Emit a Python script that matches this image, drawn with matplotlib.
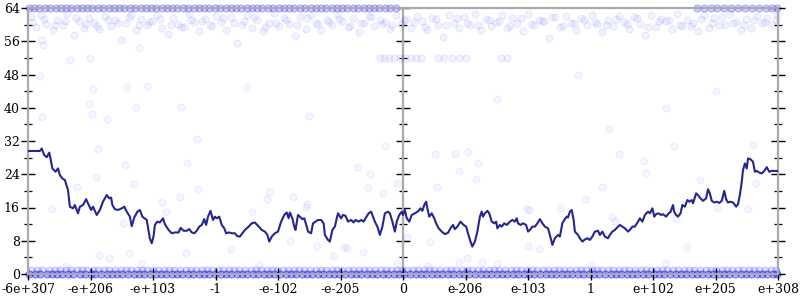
import matplotlib
matplotlib.use("Agg")
import matplotlib.pyplot as plt
import numpy as np
from matplotlib.ticker import MultipleLocator

# x is the float ordering rank, 100 units per labelled tick, 0 in the middle
x_ticks = [-600, -500, -400, -300, -200, -100, 0, 100, 200, 300, 400, 500, 600]
x_labels = ["-6e+307", "-e+206", "-e+103", "-1", "-e-102", "-e-205", "0",
            "e-206", "e-103", "1", "e+102", "e+205", "e+308"]

# running average of the bit count (dark line)
running = [
    (-600, 29.6), (-581, 29.6), (-578, 30.2), (-574, 28.6), (-570, 28.1), (-566, 29.2), (-564, 27.8),
    (-561, 25.4), (-556, 24.6), (-552, 25.4), (-549, 23.8), (-545, 23.0), (-541, 22.6), (-536, 20.2),
    (-533, 16.2), (-528, 15.8), (-525, 16.6), (-520, 14.6), (-517, 16.2), (-512, 16.6), (-507, 18.0),
    (-504, 17.0), (-499, 15.4), (-496, 16.2), (-490, 14.2), (-485, 15.4), (-480, 17.4), (-474, 19.0),
    (-470, 18.2), (-467, 18.4), (-465, 16.6), (-461, 15.6), (-456, 15.4), (-450, 15.8), (-446, 16.2),
    (-442, 15.0), (-437, 13.8), (-434, 11.5), (-430, 13.6), (-425, 15.0), (-421, 15.4), (-417, 13.8),
    (-410, 13.0), (-405, 8.5), (-402, 7.4), (-399, 9.2), (-397, 11.8), (-393, 12.6), (-389, 12.4),
    (-384, 13.4), (-381, 12.0), (-375, 10.6), (-370, 9.8), (-365, 10.0), (-359, 10.0), (-356, 11.1),
    (-351, 10.4), (-346, 10.4), (-342, 10.8), (-338, 10.0), (-334, 9.8), (-330, 10.4), (-326, 11.4),
    (-322, 11.8), (-318, 13.2), (-315, 11.8), (-312, 13.8), (-308, 15.2), (-304, 13.0), (-301, 13.8),
    (-298, 13.4), (-294, 13.8), (-290, 11.8), (-286, 11.0), (-283, 9.8), (-278, 10.0), (-274, 9.8),
    (-269, 9.8), (-265, 9.1), (-261, 9.0), (-257, 9.8), (-253, 10.6), (-247, 11.4), (-242, 12.2),
    (-237, 12.4), (-232, 11.6), (-226, 10.6), (-221, 10.2), (-217, 9.4), (-214, 7.8), (-210, 9.0),
    (-205, 9.8), (-200, 10.2), (-195, 12.6), (-190, 14.2), (-186, 14.8), (-183, 13.4), (-181, 14.8),
    (-177, 13.4), (-174, 11.4), (-172, 10.6), (-168, 14.2), (-165, 13.8), (-161, 13.2), (-158, 13.4),
    (-154, 11.4), (-152, 10.2), (-147, 9.8), (-144, 12.2), (-140, 12.6), (-136, 13.0), (-131, 13.0),
    (-127, 12.2), (-125, 9.4), (-120, 8.2), (-117, 7.8), (-113, 10.6), (-109, 11.4), (-106, 13.4),
    (-104, 14.6), (-99, 13.4), (-96, 14.2), (-92, 14.0), (-88, 12.6), (-83, 13.0), (-79, 12.4),
    (-76, 13.0), (-71, 12.6), (-67, 13.0), (-63, 12.6), (-60, 13.4), (-55, 14.6), (-51, 15.0),
    (-48, 13.8), (-45, 12.6), (-41, 11.4), (-37, 9.4), (-33, 11.4), (-29, 14.6), (-24, 15.0),
    (-21, 14.6), (-17, 12.6), (-13, 10.2), (-10, 12.6), (-6, 14.2), (-2, 15.0), (0, 14.2),
    (3, 15.4), (6, 13.4), (10, 12.6), (14, 14.2), (19, 14.6), (25, 15.2), (28, 15.8),
    (31, 15.2), (34, 16.6), (37, 17.4), (39, 15.8), (42, 13.8), (46, 14.6), (50, 13.4),
    (53, 12.2), (57, 11.0), (62, 10.2), (67, 9.6), (72, 9.9), (76, 11.0), (80, 11.8),
    (83, 10.8), (87, 11.4), (92, 12.6), (97, 11.8), (101, 11.4), (104, 9.8), (108, 7.8),
    (111, 6.6), (115, 7.8), (119, 10.2), (123, 13.8), (126, 15.0), (128, 13.8), (131, 14.6),
    (135, 15.2), (138, 14.6), (142, 12.6), (146, 12.2), (149, 12.6), (151, 11.0), (155, 11.8),
    (158, 11.4), (162, 12.2), (166, 11.8), (171, 12.6), (175, 13.0), (179, 12.6), (182, 13.4),
    (184, 12.2), (188, 11.8), (192, 12.2), (197, 11.8), (200, 10.2), (203, 10.6), (207, 11.4),
    (211, 11.4), (215, 12.2), (219, 13.2), (223, 12.2), (227, 11.4), (232, 11.0), (235, 9.4),
    (239, 7.0), (243, 8.6), (248, 9.4), (251, 9.0), (255, 12.2), (258, 13.0), (262, 13.8),
    (264, 13.6), (267, 15.0), (270, 15.4), (273, 13.0), (275, 10.2), (280, 9.4), (283, 8.6),
    (287, 7.8), (291, 8.3), (295, 8.6), (299, 8.2), (303, 9.0), (307, 10.2), (312, 10.4),
    (315, 9.4), (319, 10.2), (323, 9.0), (328, 8.6), (331, 9.4), (335, 10.2), (339, 10.6),
    (344, 11.4), (347, 11.8), (351, 11.4), (355, 11.0), (360, 10.2), (363, 10.6), (367, 11.4),
    (371, 11.4), (376, 12.6), (379, 13.4), (383, 12.6), (387, 14.2), (392, 15.0), (395, 14.6),
    (399, 15.8), (402, 13.8), (405, 14.4), (409, 14.6), (413, 14.2), (416, 14.4), (421, 13.8),
    (425, 14.6), (428, 14.9), (432, 16.6), (434, 14.9), (437, 14.2), (440, 13.8), (444, 14.6),
    (447, 16.6), (451, 16.2), (455, 17.8), (458, 17.4), (462, 17.8), (464, 17.0), (469, 19.4),
    (472, 19.0), (476, 18.2), (480, 17.6), (485, 18.2), (488, 20.4), (491, 19.4), (494, 17.6),
    (498, 17.2), (502, 17.4), (506, 17.1), (510, 17.6), (514, 20.0), (517, 18.0), (520, 17.2),
    (524, 17.4), (528, 17.2), (533, 16.2), (536, 16.8), (539, 19.0), (542, 22.2), (544, 25.0),
    (547, 26.6), (550, 25.4), (552, 27.8), (556, 27.6), (560, 27.0), (563, 24.6), (566, 24.8),
    (570, 24.4), (574, 24.2), (578, 24.8), (582, 25.7), (586, 24.6), (590, 24.8), (600, 24.8),
]

# samples with 0 set bits
zero_x = [-598, -589, -581, -570, -562, -553, -545, -536, -528, -517, -509, -500, -493, -484, -474,
          -466, -457, -449, -440, -431, -422, -414, -405, -396, -388, -379, -370, -361, -353, -344,
          -336, -327, -318, -310, -301, -292, -284, -275, -266, -258, -249, -240, -232, -223, -214,
          -206, -197, -188, -180, -171, -162, -154, -145, -136, -128, -119, -110, -102, -93, -84,
          -76, -67, -58, -50, -41, -32, -24, -15, -6, 2, 11, 20, 28, 37, 46, 54, 63, 72, 80, 89,
          98, 106, 115, 124, 132, 141, 150, 158, 167, 176, 184, 193, 202, 210, 219, 228, 236, 245,
          254, 262, 271, 280, 288, 297, 306, 314, 323, 332, 340, 349, 358, 366, 375, 384, 392, 401,
          410, 418, 427, 436, 444, 453, 462, 470, 479, 488, 496, 505, 514, 522, 531, 540, 548, 557,
          566, 574, 583, 592, 599]
# samples with 1 set bit
one_x = [-595, -585, -577, -566, -557, -549, -540, -531, -522, -514, -505, -496, -488, -478, -470,
         -461, -452, -444, -435, -426, -418, -409, -400, -392, -383, -374, -366, -357, -348, -340,
         -331, -322, -314, -305, -296, -288, -279, -270, -262, -253, -244, -236, -227, -218, -210,
         -201, -192, -184, -175, -166, -158, -149, -140, -132, -123, -114, -106, -97, -88, -80,
         -71, -62, -54, -45, -36, -28, -19, -10, -2, 7, 16, 24, 33, 42, 50, 59, 68, 76, 85, 94,
         102, 111, 120, 128, 137, 146, 154, 163, 172, 180, 189, 198, 206, 215, 224, 232, 241, 250,
         258, 267, 276, 284, 293, 302, 310, 319, 328, 336, 345, 354, 362, 371, 380, 388, 397, 406,
         414, 423, 432, 440, 449, 458, 466, 475, 484, 492, 501, 510, 518, 527, 536, 544, 553, 562,
         570, 579, 588, 596]
# samples with all 64 bits set
full_x = [-598, -590, -582, -573, -565, -556, -548, -539, -531, -522, -514, -505, -497, -488, -480,
          -471, -463, -454, -446, -437, -429, -420, -412, -403, -395, -386, -378, -369, -361, -352,
          -344, -335, -327, -318, -310, -301, -293, -284, -276, -267, -259, -250, -242, -233, -225,
          -216, -208, -199, -191, -182, -174, -165, -157, -148, -140, -131, -123, -114, -106, -97,
          -89, -80, -72, -63, -55, -46, -38, -29, -21, -12, 470, 481, 492, 503, 514, 525, 536, 547,
          558, 569, 580, 591, 598]
# the crowd just under 64
high_x = [-596, -588, -579, -571, -560, -553, -544, -537, -527, -519, -511, -502, -494, -486, -477,
          -468, -461, -452, -443, -436, -427, -419, -410, -402, -394, -385, -376, -368, -360, -351,
          -342, -334, -326, -317, -309, -300, -291, -284, -275, -266, -258, -249, -241, -233, -224,
          -215, -207, -199, -190, -182, -173, -165, -156, -148, -139, -131, -122, -114, -105, -97,
          -88, -80, -71, -63, -55, -46, -37, -29, -21, -12, -4, 5, 13, 22, 30, 39, 47, 56, 64, 73,
          81, 90, 98, 107, 115, 124, 132, 141, 149, 158, 166, 175, 183, 192, 200, 209, 217, 226,
          234, 243, 251, 260, 268, 277, 285, 294, 302, 311, 319, 328, 336, 345, 353, 362, 370, 379,
          387, 396, 404, 413, 421, 430, 438, 447, 455, 464, 472, 481, 489, 498, 506, 515, 523, 532,
          540, 549, 557, 566, 574, 583, 591, 599]
high_y = [61.8, 59.4, 62.3, 60.1, 58.7, 61.2, 59.9, 62.6, 57.5, 60.8,
          59.2, 61.6, 60.4, 58.9, 62.1, 59.7, 61.0, 56.4, 60.3, 62.4,
          58.6, 61.4, 59.8, 60.9, 62.2, 59.1, 57.8, 61.7, 60.2, 59.5,
          62.5, 60.6, 58.4, 61.3, 59.9, 62.0, 60.7, 58.8, 61.9, 55.6,
          60.0, 62.3, 59.3, 61.1, 58.5, 60.5, 62.7, 59.6, 61.5, 60.1,
          57.2, 61.8, 59.0, 62.2, 60.4, 58.7, 61.2, 59.8, 62.6, 60.9,
          59.4, 61.6, 58.2, 60.3, 62.1, 59.7, 61.0, 60.6, 58.9, 62.4,
          60.2, 61.4, 59.2, 62.0, 60.8, 58.6, 61.7, 59.9, 57.1, 62.3,
          60.5, 59.3, 61.9, 60.0, 62.5, 58.8, 61.3, 59.6, 60.7, 62.2,
          59.1, 61.5, 60.3, 58.4, 62.6, 59.8, 61.1, 60.9, 56.9, 61.8,
          59.5, 62.1, 60.4, 58.7, 61.6, 59.9, 62.4, 60.1, 58.3, 61.2,
          59.7, 62.0, 60.6, 59.0, 61.9, 60.2, 57.6, 62.3, 59.4, 61.4,
          60.8, 58.9, 62.5, 59.6, 61.0, 60.5, 58.5, 62.2, 59.2, 61.7,
          60.0, 59.8, 62.6, 60.7, 58.6, 61.3, 59.3, 62.0, 60.4, 61.5,
          59.9, 62.4]
high2_x = [-593, -575, -557, -541, -523, -507, -490, -472, -456, -439,
           -423, -406, -389, -372, -356, -339, -322, -305, -288, -271,
           -254, -238, -221, -204, -187, -170, -153, -136, -119, -102,
           -85, -68, -51, -34, -17, 1, 18, 35, 52, 69,
           86, 103, 120, 137, 154, 171, 188, 205, 222, 239,
           256, 273, 290, 307, 324, 341, 358, 375, 392, 409,
           426, 443, 460, 477, 494, 511, 528, 545, 562, 579,
           596]
high2_y = [60.6, 61.3, 59.8, 60.9, 61.7, 60.2, 59.6, 61.1, 60.4, 61.9,
           59.9, 60.7, 61.4, 60.0, 59.5, 61.2, 60.8, 59.7, 61.6, 60.3,
           60.9, 61.8, 59.4, 60.5, 61.0, 59.9, 61.5, 60.1, 60.7, 61.3,
           59.6, 60.4, 61.9, 60.2, 59.8, 61.1, 60.6, 59.5, 61.4, 60.0,
           61.7, 60.3, 59.9, 61.2, 60.8, 59.7, 61.5, 60.1, 60.9, 61.8,
           59.6, 60.4, 61.0, 60.7, 59.8, 61.3, 60.2, 61.6, 59.5, 60.8,
           61.1, 60.0, 59.7, 61.4, 60.5, 61.9, 60.3, 59.9, 61.2, 60.6,
           61.0]
# row at 52 bits near the middle
row52_x = [-37, -30, -22, -14, -5, 3, 12, 20, 28, 56, 66, 78, 90, 100, 156, 166]

# isolated samples
stray = [
    (-581, 47.6), (-577, 37.7), (-533, 51.5), (-501, 52.0), (-496, 44.4), (-502, 40.9), (-498, 38.4),
    (-473, 37.2), (-488, 30.1), (-442, 44.9), (-428, 40.3), (-409, 45.2), (-356, 40.1), (-330, 32.4),
    (-422, 54.3), (-578, 56.3), (-576, 55.1), (-445, 26.2), (-346, 26.8), (-492, 23.3), (-432, 21.7),
    (-521, 21.0), (-328, 20.4), (-386, 17.4), (-357, 18.6), (-562, 15.6), (-379, 15.0), (-448, 12.2),
    (-486, 4.6), (-471, 3.8), (-439, 5.0), (-347, 5.1), (-29, 30.9), (-73, 25.8), (-53, 24.1),
    (-10, 22.0), (-32, 19.6), (-56, 20.6), (51, 28.9), (83, 28.8), (104, 29.3), (120, 26.6),
    (90, 24.9), (116, 22.8), (-64, 5.4), (-112, 4.4), (-94, 6.4), (43, 7.8), (103, 3.8),
    (126, 3.0), (346, 28.9), (434, 30.8), (386, 27.2), (388, 24.3), (560, 31.1), (565, 22.0),
    (318, 21.0), (475, 22.6), (503, 16.0), (335, 13.6), (339, 12.8), (454, 6.4), (552, 15.6),
    (436, 13.2), (-214, 19.8), (-217, 18.0), (-242, 14.8), (-275, 5.9), (-176, 18.6), (-154, 16.8),
    (-156, 16.2), (-181, 8.0), (-138, 6.7), (-90, 6.2), (55, 21.0), (6, 8.8), (198, 15.6),
    (292, 18.0), (251, 15.8), (202, 15.4), (200, 6.7), (218, 6.0), (-250, 45.0), (-150, 38.0),
    (150, 42.0), (280, 48.0), (420, 40.0), (500, 44.0), (330, 35.0), (-230, 2.2), (-10, 2.5),
    (40, 2.0), (90, 2.8), (150, 2.3), (300, 2.1), (420, 2.6), (-420, 2.4), (-540, 2.0),
]

LINE = "#26268f"
GREY = "#aaaaaa"

plt.rcParams["font.family"] = ["DejaVu Serif"]

fig = plt.figure(figsize=(8, 3), dpi=100)
rect = [28 / 800, 26 / 300, 750 / 800, 266 / 300]

# right half carries the middle axis line at x = 0, drawn underneath
mid = fig.add_axes([403 / 800, 26 / 300, 375 / 800, 266 / 300])
mid.set_ylim(0, 64)
mid.patch.set_visible(False)
for side in ["right", "top", "bottom"]:
    mid.spines[side].set_visible(False)
mid.spines["left"].set_color(GREY)
mid.spines["left"].set_linewidth(1.6)
mid.set_xticks([])
mid.yaxis.set_major_locator(MultipleLocator(8))
mid.yaxis.set_minor_locator(MultipleLocator(4))
mid.tick_params(axis="y", which="major", direction="inout", length=10, width=1.0, labelleft=False)
mid.tick_params(axis="y", which="minor", direction="inout", length=6, width=0.9)

ax = fig.add_axes(rect)
ax.patch.set_visible(False)

sx, sy = np.array(stray).T
groups = [
    (np.array(zero_x), np.zeros(len(zero_x)), 0.30),
    (np.array(one_x), np.ones(len(one_x)), 0.12),
    (np.array(full_x), np.full(len(full_x), 64.0), 0.18),
    (np.array(high_x), np.array(high_y), 0.05),
    (np.array(high2_x), np.array(high2_y), 0.05),
    (np.array(row52_x), np.full(len(row52_x), 52.0), 0.05),
    (sx, sy, 0.04),
]
for gx, gy, alpha in groups:
    ax.scatter(gx, gy, s=26, facecolor=(0, 0, 1, alpha), edgecolor=(0, 0, 1, alpha * 1.6),
               linewidth=0.7, clip_on=False, zorder=1)

lx, ly = np.array(running).T
ax.plot(lx, ly, color=LINE, linewidth=1.5, zorder=3)

ax.set_xlim(-600, 600)
ax.set_ylim(0, 64)
ax.set_xticks(x_ticks)
ax.set_xticklabels(x_labels)
ax.yaxis.set_major_locator(MultipleLocator(8))
ax.yaxis.set_minor_locator(MultipleLocator(4))

for side in ["left", "right", "top", "bottom"]:
    ax.spines[side].set_color(GREY)
    ax.spines[side].set_linewidth(1.6)

ax.tick_params(axis="y", which="major", direction="inout", length=10, width=1.0,
               labelsize=9, pad=1, right=True, colors="black")
ax.tick_params(axis="y", which="minor", direction="inout", length=6, width=0.9, right=True)
ax.tick_params(axis="x", which="major", direction="inout", length=9, width=1.0,
               labelsize=9, pad=2)

fig.savefig("out.png", dpi=100)
